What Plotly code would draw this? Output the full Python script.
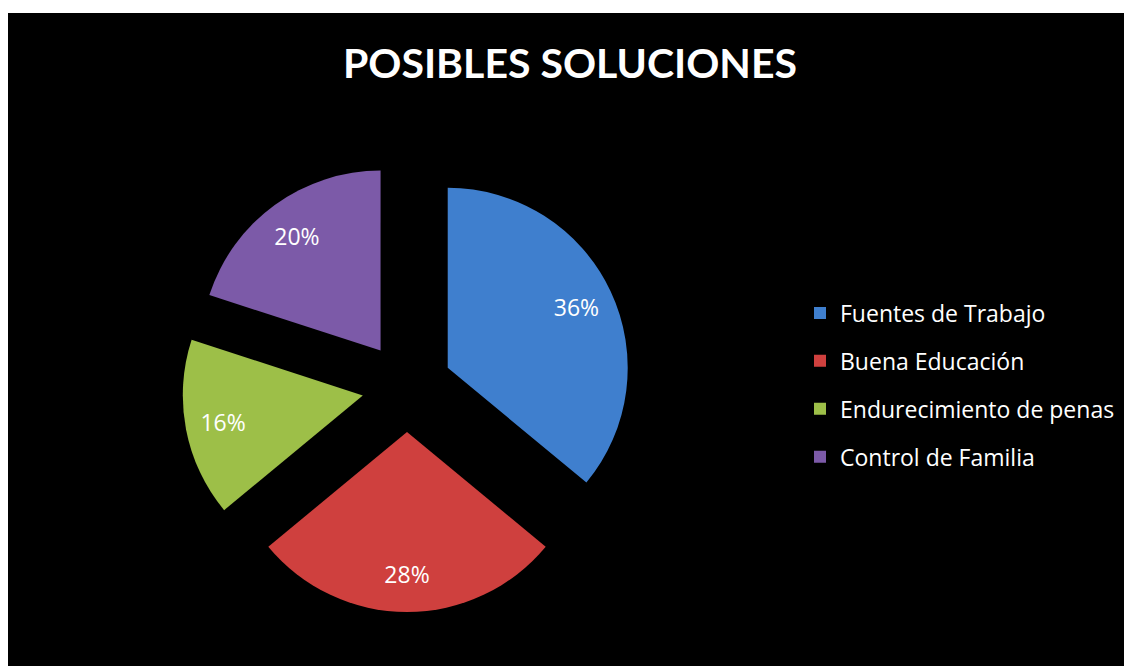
import plotly.graph_objects as go

categories = ["Fuentes de Trabajo", "Buena Educación", "Endurecimiento de penas", "Control de Familia"]
values = [36, 28, 16, 20]
colors = ["#3F7FCE", "#CF403E", "#9DBF48", "#7C5AA8"]

W, H = 1124, 658
TOP = 5
PH = H - TOP
dom = dict(x=[174 / W, 624 / W], y=[54 / PH, 504 / PH])

fig = go.Figure()
fig.add_trace(go.Pie(
    labels=categories, values=values, sort=False, direction="clockwise", rotation=0,
    pull=[0.25] * 4,
    marker=dict(colors=colors, line=dict(width=0)),
    textinfo="none", domain=dom,
    showlegend=False, hoverinfo="label+percent",
))
# transparent ring carrying the percentage labels further out in each slice
fig.add_trace(go.Pie(
    labels=categories, values=values, sort=False, direction="clockwise", rotation=0,
    pull=[0.25] * 4, hole=0.58,
    marker=dict(colors=["rgba(0,0,0,0)"] * 4, line=dict(width=0)),
    textinfo="percent", textposition="inside", insidetextorientation="horizontal",
    textfont=dict(family="Open Sans", size=23, color="white"),
    domain=dom, showlegend=False, hoverinfo="skip",
))
for i, (c, col) in enumerate(zip(categories, colors)):
    fig.add_trace(go.Scatter(
        x=[None], y=[None], mode="markers", name=c, legendgroup=f"g{i}",
        marker=dict(symbol="square", size=13, color=col),
    ))

fig.update_layout(
    width=W, height=H,
    margin=dict(l=0, r=0, t=TOP, b=0, pad=0),
    paper_bgcolor="white", plot_bgcolor="black",
    xaxis=dict(visible=False), yaxis=dict(visible=False),
    title=dict(text="<b>POSIBLES SOLUCIONES</b>", x=0.5, xanchor="center",
               y=1 - 56 / H, yanchor="middle",
               font=dict(family="Lato", size=41, color="white")),
    legend=dict(x=792 / W, xanchor="left", y=(PH - (380 - 8)) / PH, yanchor="middle",
                font=dict(family="Open Sans", size=23, color="white"),
                bgcolor="rgba(0,0,0,0)", tracegroupgap=15, itemsizing="constant"),
)
fig.write_html("out.html")
